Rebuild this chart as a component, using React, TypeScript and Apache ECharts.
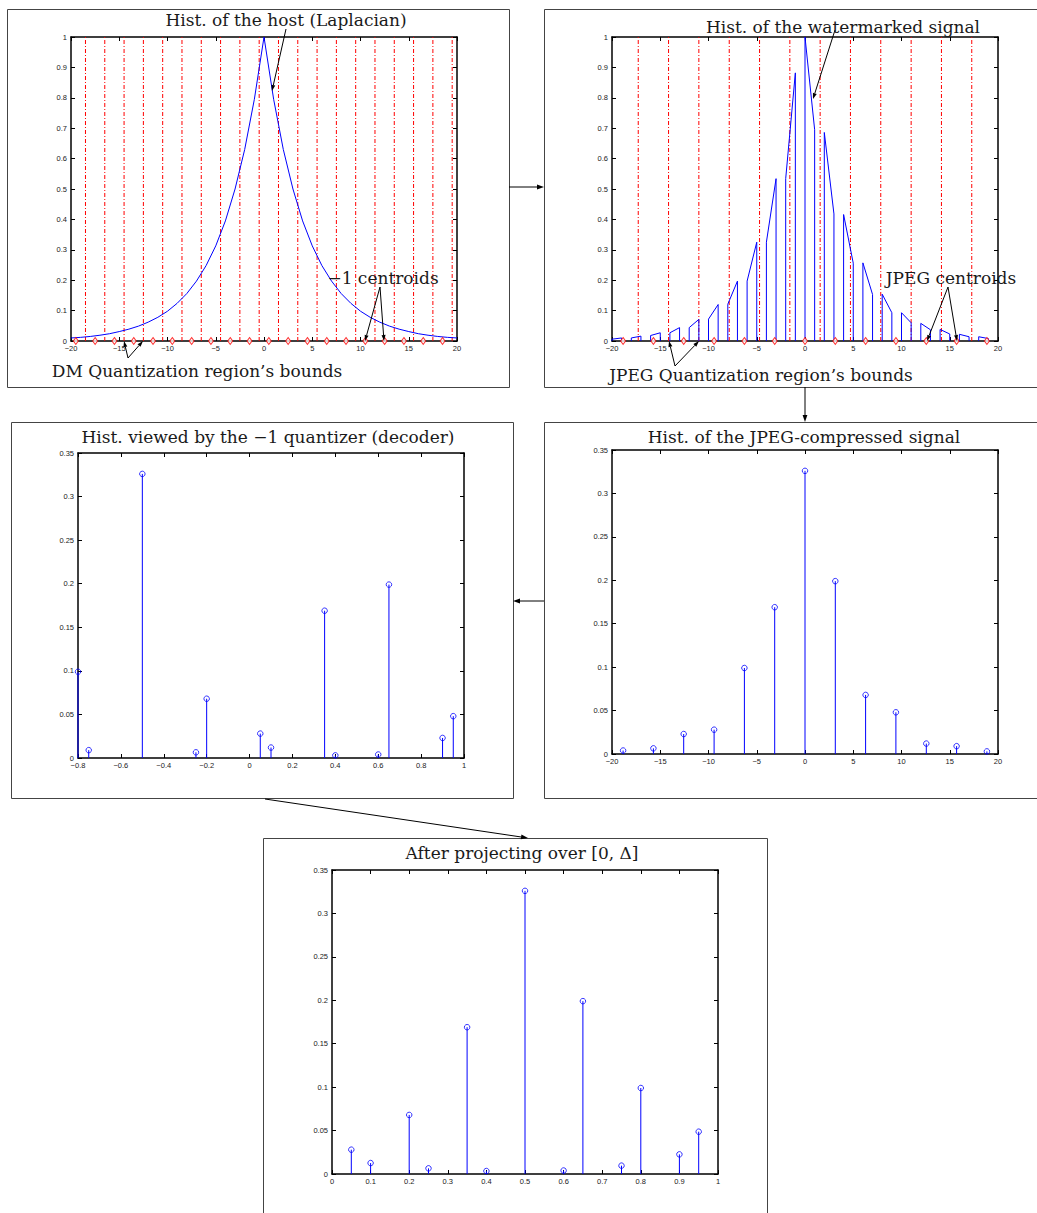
import { useEffect, useRef } from "react";
import * as echarts from "echarts";

// Host histogram (Laplacian), sampled at integer positions
const hostX = [-20, -19, -18, -17, -16, -15, -14, -13, -12, -11, -10, -9, -8, -7, -6, -5, -4, -3, -2, -1, 0, 1, 2, 3, 4, 5, 6, 7, 8, 9, 10, 11, 12, 13, 14, 15, 16, 17, 18, 19, 20];
const hostY = [0.010, 0.012, 0.015, 0.019, 0.024, 0.031, 0.039, 0.049, 0.062, 0.078, 0.098, 0.124, 0.156, 0.197, 0.248, 0.313, 0.395, 0.500, 0.630, 0.795, 1.000, 0.795, 0.630, 0.500, 0.395, 0.313, 0.248, 0.197, 0.156, 0.124, 0.098, 0.078, 0.062, 0.049, 0.039, 0.031, 0.024, 0.019, 0.015, 0.012, 0.010];

// DM quantizer: region bounds and centroids of the -1 quantizer
const dmBounds = [-18.5, -16.5, -14.5, -12.5, -10.5, -8.5, -6.5, -4.5, -2.5, -0.5, 1.5, 3.5, 5.5, 7.5, 9.5, 11.5, 13.5, 15.5, 17.5, 19.5];
const dmCentroids = [-19.5, -17.5, -15.5, -13.5, -11.5, -9.5, -7.5, -5.5, -3.5, -1.5, 0.5, 2.5, 4.5, 6.5, 8.5, 10.5, 12.5, 14.5, 16.5, 18.5];

// Watermarked signal histogram: one piece per cell [start, end], heights at both ends
const wmStart = [-20, -18, -16, -14, -12, -10, -8, -6, -4, -2, 0, 2, 4, 6, 8, 10, 12, 14, 16, 18];
const wmEnd = [-19, -17, -15, -13, -11, -9, -7, -5, -3, -1, 1, 3, 5, 7, 9, 11, 13, 15, 17, 19];
const wmLeft = [0.006, 0.010, 0.018, 0.027, 0.044, 0.072, 0.121, 0.197, 0.325, 0.534, 1.000, 0.686, 0.416, 0.257, 0.154, 0.093, 0.058, 0.038, 0.022, 0.014];
const wmRight = [0.010, 0.016, 0.027, 0.044, 0.071, 0.120, 0.197, 0.325, 0.534, 0.882, 0.695, 0.418, 0.256, 0.153, 0.093, 0.060, 0.037, 0.023, 0.014, 0.008];

// JPEG quantizer: region bounds and centroids
const jpegBounds = [-17.28, -14.14, -11.0, -7.85, -4.71, -1.57, 1.57, 4.71, 7.85, 11.0, 14.14, 17.28];
const jpegCentroids = [-18.85, -15.71, -12.57, -9.42, -6.28, -3.14, 0, 3.14, 6.28, 9.42, 12.57, 15.71, 18.85];
const jpegHist = [0.004, 0.0065, 0.023, 0.028, 0.099, 0.169, 0.326, 0.199, 0.068, 0.048, 0.012, 0.009, 0.003];

// Histogram seen by the -1 quantizer (decoder)
const decoderX = [-0.8, -0.75, -0.5, -0.25, -0.2, 0.05, 0.1, 0.35, 0.4, 0.6, 0.65, 0.9, 0.95];
const decoderY = [0.099, 0.009, 0.326, 0.0065, 0.068, 0.028, 0.012, 0.169, 0.003, 0.004, 0.199, 0.023, 0.048];

// After projection over [0, Delta]
const projX = [0.05, 0.1, 0.2, 0.25, 0.35, 0.4, 0.5, 0.6, 0.65, 0.75, 0.8, 0.9, 0.95];
const projY = [0.028, 0.0126, 0.068, 0.0065, 0.169, 0.0034, 0.326, 0.004, 0.199, 0.0096, 0.099, 0.0226, 0.0487];

const BLUE = "#0000ff";
const RED = "#ff0000";
const SERIF = '"DejaVu Serif", serif';
const SANS = '"Liberation Sans", Arial, sans-serif';

const panels = [
  { left: 71, top: 37, width: 386, height: 304, xMin: -20, xMax: 20, xStep: 5, yMax: 1, yStep: 0.1 },
  { left: 612, top: 37, width: 386, height: 304, xMin: -20, xMax: 20, xStep: 5, yMax: 1, yStep: 0.1 },
  { left: 78, top: 453, width: 386, height: 305, xMin: -0.8, xMax: 1, xStep: 0.2, yMax: 0.35, yStep: 0.05 },
  { left: 612, top: 450, width: 386, height: 304, xMin: -20, xMax: 20, xStep: 5, yMax: 0.35, yStep: 0.05 },
  { left: 332, top: 870, width: 386, height: 304, xMin: 0, xMax: 1, xStep: 0.1, yMax: 0.35, yStep: 0.05 },
];

const fmt = (v: number) => String(Number(v.toFixed(3))).replace("-", "\u2212");

function axisPair(kind: "x" | "y", gridIndex: number, min: number, max: number, interval: number) {
  const base = {
    type: "value",
    gridIndex,
    min,
    max,
    interval,
    axisLine: { show: true, onZero: false, lineStyle: { color: "#000", width: 1.5 } },
    axisTick: { show: true, inside: true, length: 4, lineStyle: { color: "#000", width: 1 } },
    splitLine: { show: false },
  };
  const main = {
    ...base,
    position: kind === "x" ? "bottom" : "left",
    axisLabel: {
      show: true,
      margin: kind === "x" ? 3 : 4,
      fontSize: 7.5,
      fontFamily: SANS,
      color: "#1a1a1a",
      showMinLabel: true,
      showMaxLabel: true,
      formatter: fmt,
    },
  };
  const other = { ...base, position: kind === "x" ? "top" : "right", axisLabel: { show: false } };
  return [main, other];
}

function vLines(idx: number, xs: number[], yMax: number, color: string) {
  return {
    type: "custom",
    xAxisIndex: idx * 2,
    yAxisIndex: idx * 2,
    data: xs.map((x) => [x, yMax]),
    encode: { x: 0, y: 1 },
    clip: false,
    z: 1,
    renderItem: (_p: any, api: any) => {
      const a = api.coord([api.value(0), 0]);
      const b = api.coord([api.value(0), api.value(1)]);
      return {
        type: "line",
        shape: { x1: a[0], y1: a[1], x2: b[0], y2: b[1] },
        style: { stroke: color, lineWidth: 1, lineDash: [4, 2, 1, 2] },
      };
    },
  };
}

function stems(idx: number, xs: number[], ys: number[]) {
  const data = xs.map((x, i) => [x, ys[i]]);
  return [
    {
      type: "custom",
      xAxisIndex: idx * 2,
      yAxisIndex: idx * 2,
      data,
      encode: { x: 0, y: 1 },
      clip: false,
      z: 3,
      renderItem: (_p: any, api: any) => {
        const a = api.coord([api.value(0), 0]);
        const b = api.coord([api.value(0), api.value(1)]);
        return {
          type: "line",
          shape: { x1: a[0], y1: a[1], x2: b[0], y2: b[1] },
          style: { stroke: BLUE, lineWidth: 1 },
        };
      },
    },
    {
      type: "scatter",
      xAxisIndex: idx * 2,
      yAxisIndex: idx * 2,
      data,
      symbol: "circle",
      symbolSize: 5.5,
      clip: false,
      z: 4,
      itemStyle: { color: "rgba(255,255,255,0)", borderColor: BLUE, borderWidth: 1 },
    },
  ];
}

function diamonds(idx: number, xs: number[]) {
  return {
    type: "scatter",
    xAxisIndex: idx * 2,
    yAxisIndex: idx * 2,
    data: xs.map((x) => [x, 0]),
    symbol: "diamond",
    symbolSize: [5, 7],
    clip: false,
    z: 5,
    itemStyle: { color: "#fff", borderColor: RED, borderWidth: 1 },
  };
}

function arrow(x1: number, y1: number, x2: number, y2: number, len = 7, half = 2.4) {
  const dx = x2 - x1;
  const dy = y2 - y1;
  const L = Math.hypot(dx, dy);
  const ux = dx / L;
  const uy = dy / L;
  const bx = x2 - ux * len;
  const by = y2 - uy * len;
  const px = -uy;
  const py = ux;
  return [
    { type: "line", silent: true, z: 50, shape: { x1, y1, x2: bx, y2: by }, style: { stroke: "#000", lineWidth: 1 } },
    {
      type: "polygon",
      silent: true,
      z: 50,
      shape: { points: [[x2, y2], [bx + px * half, by + py * half], [bx - px * half, by - py * half]] },
      style: { fill: "#000" },
    },
  ];
}

function label(x: number, y: number, text: string) {
  return {
    type: "text",
    x,
    y,
    z: 60,
    silent: true,
    style: {
      text,
      fontSize: 17,
      fontFamily: SERIF,
      fill: "#1a1a1a",
      textAlign: "center",
      textVerticalAlign: "middle",
    },
  };
}

function frame(x: number, y: number, w: number, h: number) {
  return {
    type: "rect",
    silent: true,
    z: 0,
    shape: { x: x + 0.5, y: y + 0.5, width: w, height: h },
    style: { fill: "none", stroke: "#444", lineWidth: 1 },
  };
}

export default function App() {
  const ref = useRef<HTMLDivElement>(null);

  useEffect(() => {
    if (!ref.current) return;
    const chart = echarts.init(ref.current, null, { renderer: "svg" });

    const xAxis: any[] = [];
    const yAxis: any[] = [];
    panels.forEach((p, i) => {
      xAxis.push(...axisPair("x", i, p.xMin, p.xMax, p.xStep));
      yAxis.push(...axisPair("y", i, 0, p.yMax, p.yStep));
    });

    const series: any[] = [
      // Panel 1: host histogram with DM bounds and -1 centroids
      vLines(0, dmBounds, 1, RED),
      {
        type: "line",
        xAxisIndex: 0,
        yAxisIndex: 0,
        data: hostX.map((x, i) => [x, hostY[i]]),
        showSymbol: false,
        symbol: "none",
        lineStyle: { color: BLUE, width: 1 },
        z: 3,
      },
      diamonds(0, dmCentroids),
      // Panel 2: watermarked histogram with JPEG bounds and centroids
      vLines(1, jpegBounds, 1, RED),
      {
        type: "custom",
        xAxisIndex: 2,
        yAxisIndex: 2,
        data: wmStart.map((s, i) => [s, wmEnd[i], wmLeft[i], wmRight[i]]),
        encode: { x: [0, 1], y: [2, 3] },
        clip: false,
        z: 3,
        renderItem: (_p: any, api: any) => {
          const a = api.value(0);
          const b = api.value(1);
          const pts = [
            api.coord([a, 0]),
            api.coord([a, api.value(2)]),
            api.coord([b, api.value(3)]),
            api.coord([b, 0]),
          ];
          return {
            type: "polyline",
            shape: { points: pts },
            style: { stroke: BLUE, lineWidth: 1, fill: null },
          };
        },
      },
      diamonds(1, jpegCentroids),
      // Panel 3: decoder view
      ...stems(2, decoderX, decoderY),
      // Panel 4: JPEG-compressed histogram
      ...stems(3, jpegCentroids, jpegHist),
      // Panel 5: projected histogram
      ...stems(4, projX, projY),
    ];

    const graphics: any[] = [
      frame(7, 9, 502, 378),
      frame(544, 9, 500, 378),
      frame(11, 422, 502, 376),
      frame(544, 422, 500, 376),
      frame(263, 838, 504, 400),
      // links between the panels
      ...arrow(509, 187, 544, 187),
      ...arrow(805, 387, 805, 422),
      ...arrow(544, 601, 513, 601),
      ...arrow(265, 799, 528, 838),
      // annotations
      ...arrow(286, 29, 272, 91, 6, 2),
      ...arrow(380, 287, 365, 341, 6, 2),
      ...arrow(380, 287, 384, 341, 6, 2),
      ...arrow(128, 358, 124, 341, 6, 2),
      ...arrow(128, 358, 143, 341, 6, 2),
      ...arrow(835, 30, 813, 99, 6, 2),
      ...arrow(948, 287, 927, 341, 6, 2),
      ...arrow(948, 287, 957, 341, 6, 2),
      ...arrow(675, 366, 669, 341, 6, 2),
      ...arrow(675, 366, 699, 341, 6, 2),
      label(286, 20, "Hist. of the host (Laplacian)"),
      label(383, 278, "\u22121 centroids"),
      label(197, 371, "DM Quantization region\u2019s bounds"),
      label(843, 27, "Hist. of the watermarked signal"),
      label(951, 278, "JPEG centroids"),
      label(761, 375, "JPEG Quantization region\u2019s bounds"),
      label(268, 437, "Hist. viewed by the \u22121 quantizer (decoder)"),
      label(804, 437, "Hist. of the JPEG-compressed signal"),
      label(522, 853, "After projecting over [0, \u0394]"),
    ];

    chart.setOption({
      animation: false,
      backgroundColor: "#fff",
      grid: panels.map((p) => ({ left: p.left, top: p.top, width: p.width, height: p.height, show: false })),
      xAxis,
      yAxis,
      series,
      graphic: { elements: graphics },
    });

    return () => chart.dispose();
  }, []);

  return (
    <div
      ref={ref}
      style={{ position: "absolute", left: 0, top: 0, width: 1037, height: 1213, background: "#fff" }}
    />
  );
}
